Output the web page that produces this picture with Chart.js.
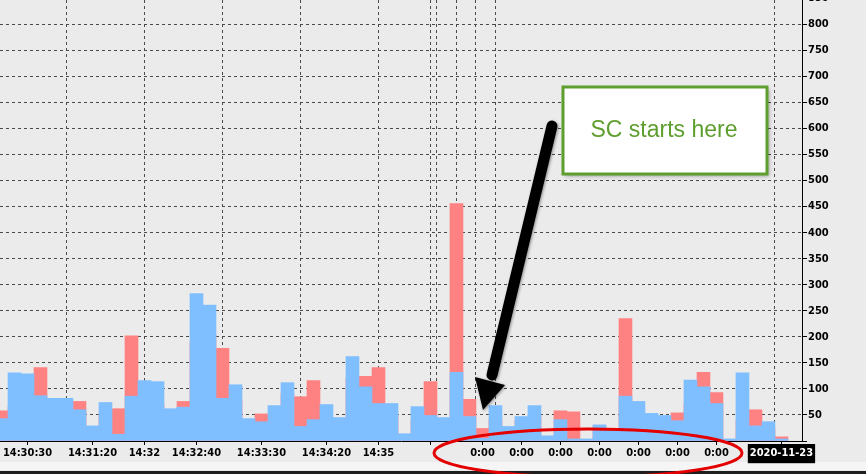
<!DOCTYPE html>
<html>
<head>
<meta charset="utf-8">
<script src="https://cdn.jsdelivr.net/npm/chart.js@4/dist/chart.umd.min.js"></script>
<style>
  body { margin: 0; background: #ebebeb; }
  #wrap { width: 866px; height: 474px; }
</style>
</head>
<body>
<div id="wrap"><canvas id="volChart" width="866" height="474"></canvas></div>
<script>
// one bar every 10 seconds, bar index on the x axis
const barIndex = [...Array(61).keys()];

// buy volume (blue) and sell volume (red)
const buyVol = [43, 131, 129, 87, 82, 82, 60, 29, 74, 13, 86, 116, 114, 62, 65, 283, 261, 82, 108, 43,
  37, 68, 112, 28, 41, 70, 45, 162, 104, 72, 72, 14, 66, 49, 45, 132, 47, 5, 68, 28,
  47, 68, 10, 41, 4, 4, 31, 24, 86, 76, 53, 49, 39, 117, 104, 72, 4, 131, 29, 37, 4];
const sellVol = [58, 65, 96, 141, 58, 70, 76, 22, 51, 62, 202, 78, 70, 40, 76, 190, 204, 178, 80, 32,
  52, 50, 91, 85, 116, 44, 30, 120, 124, 141, 48, 10, 40, 114, 30, 456, 80, 24, 42, 20,
  40, 50, 6, 58, 56, 2, 28, 18, 235, 50, 40, 30, 54, 72, 132, 93, 2, 40, 60, 25, 8];

// x tick positions (bar index) and their labels
const tickPos = [2, 7, 11, 15, 20, 25, 29, 33, 37, 40, 43, 46, 49, 52, 55, 60];
const tickText = ['14:30:30', '14:31:20', '14:32', '14:32:40', '14:33:30', '14:34:20', '14:35', '',
  '0:00', '0:00', '0:00', '0:00', '0:00', '0:00', '0:00', '2020-11-23'];
// vertical grid lines (bar index)
const gridPos = [5, 11, 17, 23, 29, 33, 33.5, 35, 36.5, 38, 59.5];

const X_MIN = -0.115, X_MAX = 61.58, Y_MAX = 846.7;
const tickFont = { family: '"DejaVu Sans Condensed", "DejaVu Sans", sans-serif', size: 11, weight: 'bold' };

const chrome = {
  id: 'chrome',
  beforeDraw(chart) {
    const ctx = chart.ctx;
    ctx.save();
    ctx.fillStyle = '#ebebeb';
    ctx.fillRect(0, 0, chart.width, chart.height);
    ctx.fillStyle = '#f5f5f5';
    ctx.fillRect(0, 462, chart.width, 8);
    ctx.fillStyle = '#1e1e1e';
    ctx.fillRect(0, 471, chart.width, 3);
    ctx.restore();
  },
  afterDraw(chart) {
    const ctx = chart.ctx;
    const y = chart.scales.y;
    ctx.save();

    // top tick label, mostly cut off by the canvas edge
    ctx.fillStyle = '#000';
    ctx.font = 'bold 11px "DejaVu Sans Condensed", "DejaVu Sans", sans-serif';
    ctx.textAlign = 'left';
    ctx.textBaseline = 'middle';
    ctx.fillText('850', y.left + 6, y.getPixelForValue(850));

    // note box
    ctx.shadowColor = 'rgba(0,0,0,0.35)';
    ctx.shadowBlur = 4;
    ctx.shadowOffsetX = 2;
    ctx.shadowOffsetY = 2;
    ctx.fillStyle = '#ffffff';
    ctx.fillRect(563, 87, 204, 87);
    ctx.shadowColor = 'transparent';
    ctx.strokeStyle = '#5e9e2e';
    ctx.lineWidth = 3;
    ctx.strokeRect(563, 87, 204, 87);
    ctx.fillStyle = '#5e9e2e';
    ctx.font = '23px "Liberation Sans", Arial, sans-serif';
    ctx.textAlign = 'center';
    ctx.textBaseline = 'alphabetic';
    ctx.fillText('SC starts here', 664, 137);

    // arrow
    ctx.shadowColor = 'rgba(0,0,0,0.4)';
    ctx.shadowBlur = 3;
    ctx.shadowOffsetX = 1;
    ctx.shadowOffsetY = 1;
    ctx.strokeStyle = '#000';
    ctx.lineWidth = 11;
    ctx.lineCap = 'round';
    ctx.beginPath();
    ctx.moveTo(552, 126);
    ctx.lineTo(492, 375);
    ctx.stroke();
    ctx.fillStyle = '#000';
    ctx.beginPath();
    ctx.moveTo(483, 410);
    ctx.lineTo(475, 377);
    ctx.lineTo(505, 385);
    ctx.closePath();
    ctx.fill();
    ctx.shadowColor = 'transparent';

    // red ellipse
    ctx.strokeStyle = '#e40000';
    ctx.lineWidth = 3;
    ctx.beginPath();
    ctx.ellipse(588, 453, 154, 24, 0, 0, Math.PI * 2);
    ctx.stroke();
    ctx.restore();
  }
};

function noPad(s) {
  s.paddingTop = 0; s.paddingBottom = 0; s.paddingLeft = 0; s.paddingRight = 0;
}

// bars are drawn overlapped, full slot width
const barOpts = { grouped: false, barThickness: 13, borderWidth: 0 };

new Chart(document.getElementById('volChart'), {
  type: 'bar',
  data: {
    datasets: [Object.assign({
      label: 'Buy',
      data: barIndex.map(i => ({ x: i, y: buyVol[i] })),
      backgroundColor: '#80bfff'
    }, barOpts), Object.assign({
      label: 'Sell',
      data: barIndex.map(i => ({ x: i, y: sellVol[i] })),
      backgroundColor: '#ff8282'
    }, barOpts)]
  },
  options: {
    responsive: false,
    animation: false,
    devicePixelRatio: 1,
    layout: { padding: 0 },
    plugins: { legend: { display: false }, tooltip: { enabled: false } },
    scales: {
      xg: {
        type: 'linear', position: 'bottom', min: X_MIN, max: X_MAX, offset: false,
        afterBuildTicks: s => { s.ticks = gridPos.map(v => ({ value: v })); },
        afterFit: s => { s.height = 0; noPad(s); },
        ticks: { display: false },
        grid: { color: '#4a4a4a', lineWidth: 1, drawTicks: false, offset: false },
        border: { display: false, dash: [3, 3] }
      },
      x: {
        type: 'linear', position: 'bottom', min: X_MIN, max: X_MAX, offset: false,
        afterBuildTicks: s => { s.ticks = tickPos.map(v => ({ value: v })); },
        afterFit: s => { s.height = 33; noPad(s); },
        ticks: {
          autoSkip: false, maxRotation: 0, minRotation: 0, padding: 2,
          font: tickFont,
          color: c => (c.index === tickText.length - 1 ? '#ffffff' : '#000000'),
          showLabelBackdrop: c => c.index === tickText.length - 1,
          backdropColor: '#000000',
          backdropPadding: { x: 2, y: 3 },
          callback: (v, i) => tickText[i]
        },
        grid: { drawOnChartArea: false, drawTicks: true, tickLength: 4, tickColor: '#000', offset: false },
        border: { display: true, color: '#000', width: 1 }
      },
      y: {
        position: 'right', min: 0, max: Y_MAX,
        afterFit: s => { s.width = 64; noPad(s); },
        ticks: {
          stepSize: 50, includeBounds: false, padding: 1,
          font: tickFont, color: '#000',
          callback: v => (v === 0 ? '' : v)
        },
        grid: { color: '#4a4a4a', lineWidth: 1, tickLength: 5, tickColor: '#000', tickBorderDash: [] },
        border: { display: true, color: '#000', width: 1, dash: [3, 3] }
      }
    }
  },
  plugins: [chrome]
});
</script>
</body>
</html>
